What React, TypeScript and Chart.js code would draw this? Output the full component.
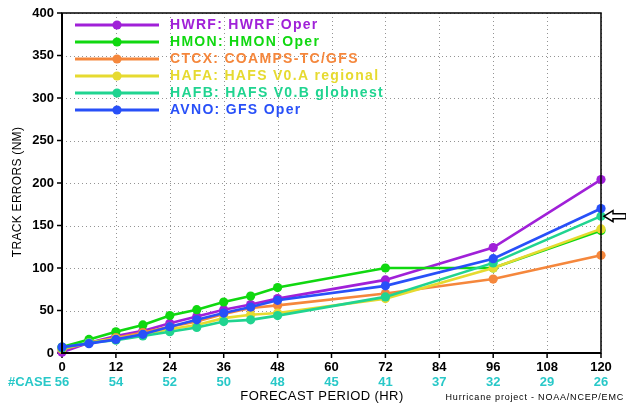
import React, { useEffect, useRef } from 'react';
import { Chart, registerables } from 'chart.js';
Chart.register(...registerables);

const hours = [0, 6, 12, 18, 24, 30, 36, 42, 48, 72, 96, 120];
const seriesLabels = [
  'HWRF: HWRF Oper',
  'HMON: HMON Oper',
  'CTCX: COAMPS-TC/GFS',
  'HAFA: HAFS V0.A regional',
  'HAFB: HAFS V0.B globnest',
  'AVNO: GFS Oper',
];
const hwrf = [1, 12, 20, 26, 35, 43, 51, 57, 64, 86, 124, 204];
const hmon = [7, 16, 25, 33, 44, 51, 60, 67, 77, 100, 100, 144];
const ctcx = [4, 12, 18, 24, 31, 37, 46, 53, 56, 70, 87, 115];
const hafa = [5, 12, 17, 22, 28, 33, 41, 45, 47, 64, 100, 146];
const hafb = [6, 12, 15, 20, 25, 30, 37, 39, 44, 66, 106, 161];
const avno = [7, 11, 16, 22, 31, 39, 47, 54, 62, 79, 111, 170];
const seriesColors = ['#a020d8', '#10d810', '#f5873c', '#e6da30', '#20d490', '#2850f8'];

const caseHours = [0, 12, 24, 36, 48, 60, 72, 84, 96, 108, 120];
const caseCounts = [56, 54, 52, 50, 48, 45, 41, 37, 32, 29, 26];
const arrowSeriesIndex = 4;

const yTitle = 'TRACK ERRORS (NM)';
const xTitle = 'FORECAST PERIOD (HR)';
const credit = 'Hurricane project - NOAA/NCEP/EMC';
const caseLabel = '#CASE';

export default function App() {
  const ref = useRef<HTMLCanvasElement>(null);
  useEffect(() => {
    document.body.style.margin = '0';
    const values = [hwrf, hmon, ctcx, hafa, hafb, avno];
    const datasets = values.map((vals, i) => ({
      label: seriesLabels[i],
      data: hours.map((h, j) => ({ x: h, y: vals[j] })),
      borderColor: seriesColors[i],
      backgroundColor: seriesColors[i],
      pointBackgroundColor: seriesColors[i],
      pointBorderWidth: 0,
      pointRadius: 4.6,
      borderWidth: 2.6,
      tension: 0,
      clip: false as any,
      order: values.length - i,
    }));

    const decor = {
      id: 'decor',
      beforeDraw(chart: any) {
        const ctx = chart.ctx;
        ctx.save();
        ctx.fillStyle = '#ffffff';
        ctx.fillRect(0, 0, chart.width, chart.height);
        ctx.restore();
      },
      beforeDatasetsDraw(chart: any) {
        const ctx = chart.ctx;
        const a = chart.chartArea;
        const xs = chart.scales.x;
        const ys = chart.scales.y;
        ctx.save();
        ctx.strokeStyle = '#949494';
        ctx.lineWidth = 1;
        ctx.setLineDash([1, 3]);
        xs.ticks.forEach((t: any) => {
          const px = Math.round(xs.getPixelForValue(t.value)) + 0.5;
          ctx.beginPath();
          ctx.moveTo(px, a.top);
          ctx.lineTo(px, a.bottom);
          ctx.stroke();
        });
        ys.ticks.forEach((t: any) => {
          const py = Math.round(ys.getPixelForValue(t.value)) + 0.5;
          ctx.beginPath();
          ctx.moveTo(a.left, py);
          ctx.lineTo(a.right, py);
          ctx.stroke();
        });
        ctx.setLineDash([]);
        // tick marks
        ctx.strokeStyle = '#000';
        ctx.lineWidth = 1.5;
        xs.ticks.forEach((t: any) => {
          const px = xs.getPixelForValue(t.value);
          ctx.beginPath();
          ctx.moveTo(px, a.bottom);
          ctx.lineTo(px, a.bottom + 5);
          ctx.stroke();
        });
        ys.ticks.forEach((t: any) => {
          const py = ys.getPixelForValue(t.value);
          ctx.beginPath();
          ctx.moveTo(a.left - 5, py);
          ctx.lineTo(a.left, py);
          ctx.stroke();
        });
        ctx.restore();
      },
      afterDatasetsDraw(chart: any) {
        const ctx = chart.ctx;
        const a = chart.chartArea;
        const xs = chart.scales.x;
        const ys = chart.scales.y;
        ctx.save();
        // frame
        ctx.strokeStyle = '#000';
        ctx.lineWidth = 1.5;
        ctx.strokeRect(a.left, a.top, a.right - a.left, a.bottom - a.top);
        ctx.lineWidth = 2;
        ctx.beginPath();
        ctx.moveTo(a.left, a.top);
        ctx.lineTo(a.left, a.bottom);
        ctx.lineTo(a.right, a.bottom);
        ctx.stroke();

        // legend
        chart.data.datasets.forEach((ds: any, i: number) => {
          const y = 25 + i * 17;
          ctx.strokeStyle = ds.borderColor;
          ctx.lineWidth = 3.2;
          ctx.beginPath();
          ctx.moveTo(75, y);
          ctx.lineTo(159, y);
          ctx.stroke();
          ctx.fillStyle = ds.borderColor;
          ctx.beginPath();
          ctx.arc(117, y, 4.6, 0, Math.PI * 2);
          ctx.fill();
          ctx.font = 'bold 14px "Liberation Sans", Arial, sans-serif';
          (ctx as any).letterSpacing = '1.3px';
          ctx.textAlign = 'left';
          ctx.textBaseline = 'middle';
          ctx.fillText(ds.label, 170, y + 0.5);
        });
        (ctx as any).letterSpacing = '0px';

        // case counts
        ctx.fillStyle = '#28c8c8';
        ctx.font = 'bold 13px "Liberation Sans", Arial, sans-serif';
        ctx.textBaseline = 'middle';
        ctx.textAlign = 'left';
        ctx.fillText(caseLabel, 8, 382);
        ctx.textAlign = 'center';
        caseHours.forEach((h, i) => {
          ctx.fillText(String(caseCounts[i]), xs.getPixelForValue(h), 382);
        });

        // x title
        ctx.fillStyle = '#000';
        ctx.font = '13px "Liberation Sans", Arial, sans-serif';
        (ctx as any).letterSpacing = '0.4px';
        ctx.textAlign = 'center';
        ctx.fillText(xTitle, 322, 396);

        // credit
        ctx.font = '9px "Liberation Sans", Arial, sans-serif';
        (ctx as any).letterSpacing = '0.8px';
        ctx.textAlign = 'right';
        ctx.fillText(credit, 624, 398);
        (ctx as any).letterSpacing = '0px';

        // y title
        ctx.save();
        ctx.translate(18, 192);
        ctx.rotate(-Math.PI / 2);
        ctx.font = '12px "Liberation Sans", Arial, sans-serif';
        (ctx as any).letterSpacing = '0.3px';
        ctx.textAlign = 'center';
        ctx.textBaseline = 'middle';
        ctx.fillText(yTitle, 0, 0);
        ctx.restore();

        // arrow pointing to series end
        const vals = values[arrowSeriesIndex];
        const ay = ys.getPixelForValue(vals[vals.length - 1]);
        const tip = a.right + 3;
        ctx.beginPath();
        ctx.moveTo(tip, ay);
        ctx.lineTo(tip + 9, ay - 5.5);
        ctx.lineTo(tip + 9, ay - 2.5);
        ctx.lineTo(tip + 22, ay - 2.5);
        ctx.lineTo(tip + 22, ay + 2.5);
        ctx.lineTo(tip + 9, ay + 2.5);
        ctx.lineTo(tip + 9, ay + 5.5);
        ctx.closePath();
        ctx.fillStyle = '#fff';
        ctx.fill();
        ctx.lineWidth = 1.5;
        ctx.strokeStyle = '#000';
        ctx.stroke();
        ctx.restore();
      },
    };

    const tickFont = { family: '"Liberation Sans", Arial, sans-serif', size: 13, weight: 'bold' as const };
    const chart = new Chart(ref.current as HTMLCanvasElement, {
      type: 'line',
      data: { datasets: datasets as any },
      options: {
        animation: false,
        responsive: false,
        devicePixelRatio: 1,
        layout: { padding: { top: 13, right: 25, left: 0, bottom: 0 } },
        plugins: { legend: { display: false }, tooltip: { enabled: false } },
        scales: {
          x: {
            type: 'linear',
            min: 0,
            max: 120,
            afterFit: (s: any) => { s.height = 51; },
            ticks: { stepSize: 12, color: '#000', font: tickFont, padding: 2, maxRotation: 0 },
            grid: { display: false, tickLength: 5 },
            border: { display: false },
          },
          y: {
            type: 'linear',
            min: 0,
            max: 400,
            afterFit: (s: any) => { s.width = 62; },
            ticks: { stepSize: 50, color: '#000', font: tickFont, padding: 3 },
            grid: { display: false, tickLength: 5 },
            border: { display: false },
          },
        },
      },
      plugins: [decor],
    });
    return () => chart.destroy();
  }, []);
  return (
    <div style={{ width: 626, height: 404, background: '#fff' }}>
      <canvas ref={ref} width={626} height={404} style={{ display: 'block' }} />
    </div>
  );
}
